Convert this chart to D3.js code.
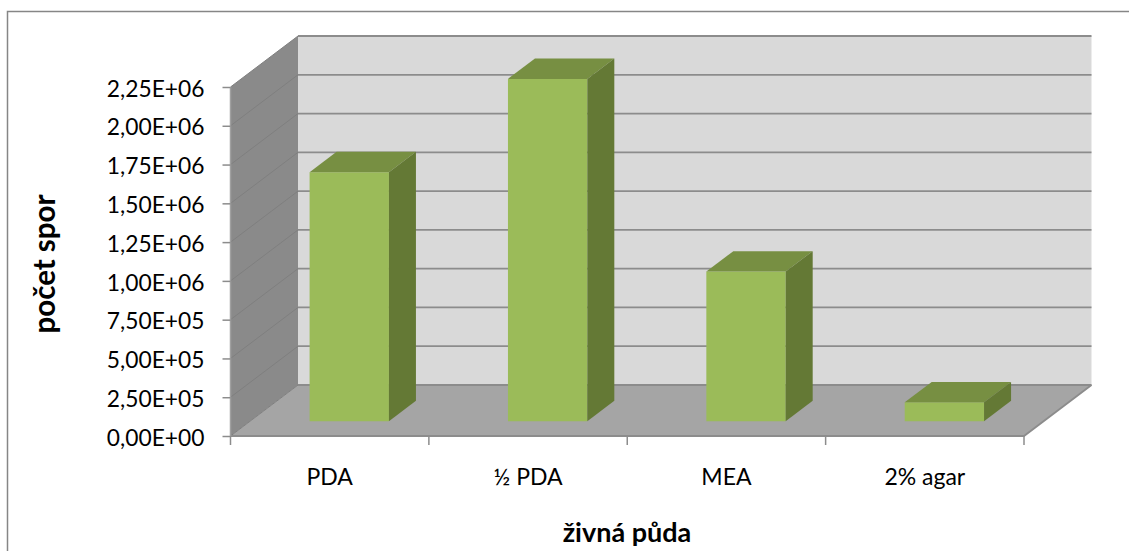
<!DOCTYPE html>
<html>
<head>
<meta charset="utf-8">
<script src="https://cdn.jsdelivr.net/npm/d3@7"></script>
<style>
  html, body { margin: 0; padding: 0; background: #fff; overflow: hidden; }
  text { font-family: Lato, "Open Sans", sans-serif; fill: #000; }
</style>
</head>
<body>
<div id="chart"></div>
<script>
// data
const categories = ["PDA", "½ PDA", "MEA", "2% agar"];
const spores = [1.605e6, 2.207e6, 9.65e5, 1.22e5];
const tickValues = [0, 2.5e5, 5e5, 7.5e5, 1e6, 1.25e6, 1.5e6, 1.75e6, 2e6, 2.25e6];
const tickLabels = ["0,00E+00", "2,50E+05", "5,00E+05", "7,50E+05", "1,00E+06", "1,25E+06", "1,50E+06", "1,75E+06", "2,00E+06", "2,25E+06"];

const w = 1129;
const h = 551;

const svg = d3.select("#chart").append("svg")
  .attr("width", w)
  .attr("height", h);

// chart frame, only top and left are in the picture
svg.append("path")
  .attr("d", "M7.5,560V11.5H1140")
  .attr("fill", "none")
  .attr("stroke", "#868686")
  .attr("stroke-width", 1.5);

// front edge scales
const x = d3.scaleBand().domain(categories).range([230.5, 1024]);
const y = d3.scaleLinear().domain([0, 2.25e6]).range([436, 87]);
// depth: 0 = front of the floor, 1 = back wall
const depthX = d3.scaleLinear().domain([0, 1]).range([0, 67.5]);
const depthY = d3.scaleLinear().domain([0, 1]).range([0, -51]);

// point on the box from a front x, a value and a depth
const pt = (px, v, d) => [px + depthX(d), y(v) + depthY(d)];
const poly = pts => "M" + pts.map(p => p.join(",")).join("L") + "Z";

const x0 = x.range()[0];
const x1 = x.range()[1];
const vMax = y.domain()[1];

// back wall
svg.append("path")
  .attr("d", poly([pt(x0, 0, 1), pt(x0, vMax, 1), pt(x1, vMax, 1), pt(x1, 0, 1)]))
  .attr("fill", "#d9d9d9");
// side wall
svg.append("path")
  .attr("d", poly([pt(x0, 0, 0), pt(x0, vMax, 0), pt(x0, vMax, 1), pt(x0, 0, 1)]))
  .attr("fill", "#8a8a8a");
// floor
svg.append("path")
  .attr("d", poly([pt(x0, 0, 0), pt(x1, 0, 0), pt(x1, 0, 1), pt(x0, 0, 1)]))
  .attr("fill", "#a5a5a5");

// gridlines, faint on the side wall
svg.append("g").selectAll("path")
  .data(tickValues)
  .join("path")
  .attr("d", v => d3.line()([pt(x0, v, 0), pt(x0, v, 1)]))
  .attr("fill", "none")
  .attr("stroke", "#7f7f7f")
  .attr("stroke-width", 1);
svg.append("g").selectAll("path")
  .data(tickValues)
  .join("path")
  .attr("d", v => d3.line()([pt(x0, v, 1), pt(x1, v, 1)]))
  .attr("fill", "none")
  .attr("stroke", "#8c8c8c")
  .attr("stroke-width", 1.8);

// floor outline, front and right edge
svg.append("path")
  .attr("d", d3.line()([pt(x0, 0, 0), pt(x1, 0, 0), pt(x1, 0, 1)]))
  .attr("fill", "none")
  .attr("stroke", "#8c8c8c")
  .attr("stroke-width", 1.8);
svg.append("path")
  .attr("d", d3.line()([pt(x0, vMax, 0), pt(x0, 0, 0)]))
  .attr("fill", "none")
  .attr("stroke", "#a0a0a0")
  .attr("stroke-width", 1.5);

// bars
const barWidth = 0.4 * x.bandwidth();
const frontDepth = 0.29;
const backDepth = 0.69;
const bars = svg.append("g").selectAll("g")
  .data(categories.map((c, i) => ({ c, v: spores[i] })))
  .join("g");
const left = d => x(d.c) + (x.bandwidth() - barWidth) / 2;
const right = d => left(d) + barWidth;

bars.append("path") // front
  .attr("d", d => poly([pt(left(d), 0, frontDepth), pt(left(d), d.v, frontDepth), pt(right(d), d.v, frontDepth), pt(right(d), 0, frontDepth)]))
  .attr("fill", "#9bbb59");
bars.append("path") // top
  .attr("d", d => poly([pt(left(d), d.v, frontDepth), pt(left(d), d.v, backDepth), pt(right(d), d.v, backDepth), pt(right(d), d.v, frontDepth)]))
  .attr("fill", "#778f42");
bars.append("path") // side
  .attr("d", d => poly([pt(right(d), 0, frontDepth), pt(right(d), d.v, frontDepth), pt(right(d), d.v, backDepth), pt(right(d), 0, backDepth)]))
  .attr("fill", "#647935");

// y axis
const yAxis = d3.axisLeft(y)
  .tickValues(tickValues)
  .tickFormat((d, i) => tickLabels[i])
  .tickSize(8)
  .tickPadding(18);
const gy = svg.append("g")
  .attr("transform", `translate(${x0},0)`)
  .call(yAxis);
gy.select(".domain").remove();
gy.selectAll("line").attr("stroke", "#8c8c8c").attr("stroke-width", 1.5);
gy.selectAll("text").attr("font-size", 22.8).attr("fill", "#000").attr("dy", "0.4em");

// x axis, ticks sit on the category boundaries
const xAxis = d3.axisBottom(x).tickSize(0).tickPadding(33);
const gx = svg.append("g")
  .attr("transform", `translate(0,${y(0)})`)
  .call(xAxis);
gx.select(".domain").remove();
gx.selectAll("text").attr("font-size", 23).attr("fill", "#000");
gx.selectAll("line.edge")
  .data([...categories.map(c => x(c)), x1])
  .join("line")
  .attr("class", "edge")
  .attr("x1", d => d).attr("x2", d => d)
  .attr("y1", 0).attr("y2", 9)
  .attr("stroke", "#8c8c8c")
  .attr("stroke-width", 1.5);

// axis titles
svg.append("text")
  .attr("transform", "translate(55,264) rotate(-90)")
  .attr("text-anchor", "middle")
  .attr("font-size", 29.5)
  .attr("font-weight", 700)
  .text("počet spor");
svg.append("text")
  .attr("x", 627)
  .attr("y", 542)
  .attr("text-anchor", "middle")
  .attr("font-size", 27)
  .attr("font-weight", 700)
  .text("živná půda");
</script>
</body>
</html>
